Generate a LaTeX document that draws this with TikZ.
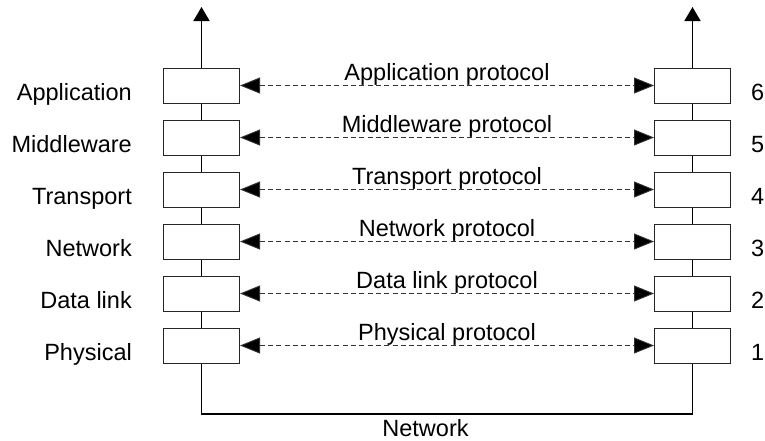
\documentclass[tikz,border=0pt]{standalone}
\usepackage{fontspec}
\setmainfont{Liberation Sans}
\usetikzlibrary{arrows.meta}
\begin{document}
\begin{tikzpicture}[x=1pt,y=-1pt,
  layerbox/.style={draw=black!85,line width=1pt,minimum width=76pt,minimum height=35pt,inner sep=0pt},
  stack/.style={line width=1.8pt,black},
  proto/.style={dashed,dash pattern=on 5pt off 3.3pt,line width=0.9pt,draw=black!80,
    {Triangle[length=20pt,width=16pt,fill=black]}-{Triangle[length=20pt,width=16pt,fill=black]}},
  lbl/.style={font=\fontsize{23.5}{27}\selectfont,inner sep=0pt},
  ]
\useasboundingbox (0,0) rectangle (765,440);
\foreach \i/\y in {1/345.5,2/293.5,3/241.5,4/189.5,5/137.5,6/85.5}{
  \node[layerbox] (L\i) at (201.5,\y) {};
  \node[layerbox] (R\i) at (692.5,\y) {};
}
% stacks
\coordinate (topL) at (201.5,7);
\coordinate (topR) at (692.5,7);
\draw[stack,-{Triangle[length=14pt,width=16pt]}] (L6.north) -- (topL);
\draw[stack,-{Triangle[length=14pt,width=16pt]}] (R6.north) -- (topR);
\foreach \a/\b in {1/2,2/3,3/4,4/5,5/6}{
  \draw[stack] (L\a.north) -- (L\b.south);
  \draw[stack] (R\a.north) -- (R\b.south);
}
\coordinate (bl) at (201.5,414);
\coordinate (br) at (692.5,414);
\draw[stack] (L1.south) -- (bl) -- (br) -- (R1.south);
\node[lbl,anchor=base] (netlbl) at (425.5,436) {Network};
% protocols
\foreach \i/\t in {6/Application,5/Middleware,4/Transport,3/Network,2/Data link,1/Physical}{
  \draw[proto] (L\i.east) -- node[lbl,anchor=base,yshift=5pt] (P\i) {\t\ protocol} (R\i.west);
  \node[lbl,anchor=base east] (N\i) at ([yshift=-14.5pt]L\i.center -| 132,0) {\t};
  \node[lbl,anchor=base east] (D\i) at ([yshift=-15pt]R\i.center -| 764.5,0) {\i};
}
\end{tikzpicture}
\end{document}
